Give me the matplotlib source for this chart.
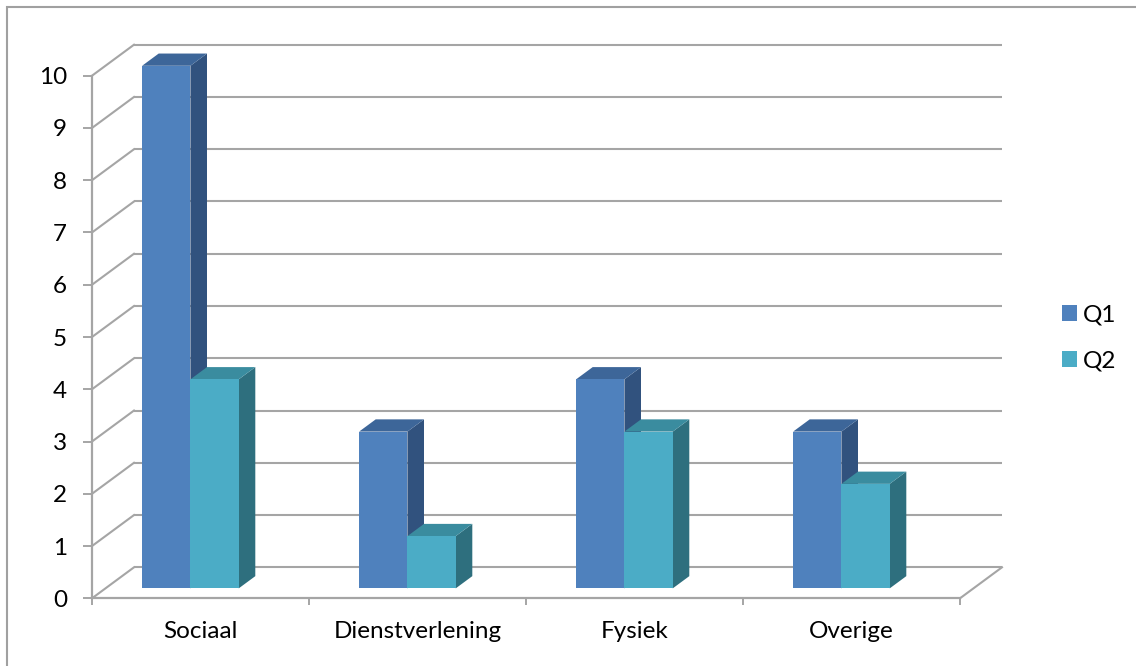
import matplotlib.pyplot as plt
from matplotlib.patches import Polygon, Patch, Rectangle
from matplotlib import transforms

categories = ['Sociaal', 'Dienstverlening', 'Fysiek', 'Overige']
series = ['Q1', 'Q2']
q1 = [10, 3, 4, 3]
q2 = [4, 1, 3, 2]
yticks = list(range(0, 11))

# front, top, side shades
q1_colors = ('#4F81BD', '#3D6699', '#31527E')
q2_colors = ('#4BACC6', '#3A8C9F', '#2E6F7E')
grid = '#A5A5A5'

# oblique depth of the plot box, in data units
DX = 0.1935
DY = 0.593
D0, D1 = 0.32, 0.715   # front / back depth of the bars
BAR_W = 0.2226
BAR_OFF = -0.331

plt.rcParams['font.family'] = ['Lato', 'DejaVu Sans']

fig = plt.figure(figsize=(11.36, 6.66), dpi=100)
ax = fig.add_axes([92 / 1136, 67.7 / 666, 868 / 1136, 522.6 / 666])
ax.set_xlim(-0.5, 3.5)
ax.set_ylim(0, 10)

# back wall gridlines and side wall diagonals
for v in yticks:
    ax.plot([-0.5 + DX, 3.5 + DX], [v + DY, v + DY], color=grid, lw=1.5,
            clip_on=False, zorder=1, solid_capstyle='butt')
    ax.plot([-0.5, -0.5 + DX], [v, v + DY], color=grid, lw=1.5,
            clip_on=False, zorder=1)
ax.plot([3.5, 3.5 + DX], [0, DY], color=grid, lw=1.5, clip_on=False, zorder=1)


def draw_bar(x0, h, colors):
    front, top, side = colors
    xa, xb = x0, x0 + BAR_W
    f = [(xa + D0 * DX, D0 * DY), (xb + D0 * DX, D0 * DY),
         (xb + D0 * DX, h + D0 * DY), (xa + D0 * DX, h + D0 * DY)]
    t = [(xa + D0 * DX, h + D0 * DY), (xb + D0 * DX, h + D0 * DY),
         (xb + D1 * DX, h + D1 * DY), (xa + D1 * DX, h + D1 * DY)]
    s = [(xb + D0 * DX, D0 * DY), (xb + D1 * DX, D1 * DY),
         (xb + D1 * DX, h + D1 * DY), (xb + D0 * DX, h + D0 * DY)]
    for pts, c in ((s, side), (t, top), (f, front)):
        ax.add_patch(Polygon(pts, closed=True, facecolor=c, edgecolor='none',
                             clip_on=False, zorder=3))


for i in range(len(categories)):
    draw_bar(i + BAR_OFF, q1[i], q1_colors)
    draw_bar(i + BAR_OFF + BAR_W, q2[i], q2_colors)

# front axes
for side in ['top', 'right']:
    ax.spines[side].set_visible(False)
for side in ['left', 'bottom']:
    ax.spines[side].set_color(grid)
    ax.spines[side].set_linewidth(1.6)
    ax.spines[side].set_zorder(2)

ax.set_yticks(yticks)
ax.set_xticks([-0.5, 0.5, 1.5, 2.5, 3.5], labels=[''] * 5)
ax.tick_params(axis='y', length=6.5, width=1.4, color=grid, pad=11.5,
               labelsize=17.5, labelcolor='black')
ax.tick_params(axis='x', length=5, width=1.4, color=grid)
ax.set_facecolor('none')

lab_tr = transforms.offset_copy(ax.transData, fig=fig, y=-33, units='dots')
for i, c in enumerate(categories):
    ax.text(i, 0, c, transform=lab_tr, ha='center', va='center', fontsize=17.5)

handles = [Patch(facecolor=q1_colors[0]), Patch(facecolor=q2_colors[0])]
fig.legend(handles, series, loc='center left', bbox_to_anchor=(1062 / 1136, 0.4925),
           frameon=False, fontsize=17.5, handlelength=0.62, handleheight=0.62,
           handletextpad=0.22, labelspacing=1.05, borderpad=0, borderaxespad=0)

# chart border (only left and top edges fall inside the picture)
fig.add_artist(Rectangle((7.3 / 1136, -0.05), 1.2, (666 - 6.7) / 666 + 0.05,
                         transform=fig.transFigure, fill=False,
                         edgecolor='#A0A0A0', lw=1.5, clip_on=False))

fig.savefig('out.png', dpi=100)
